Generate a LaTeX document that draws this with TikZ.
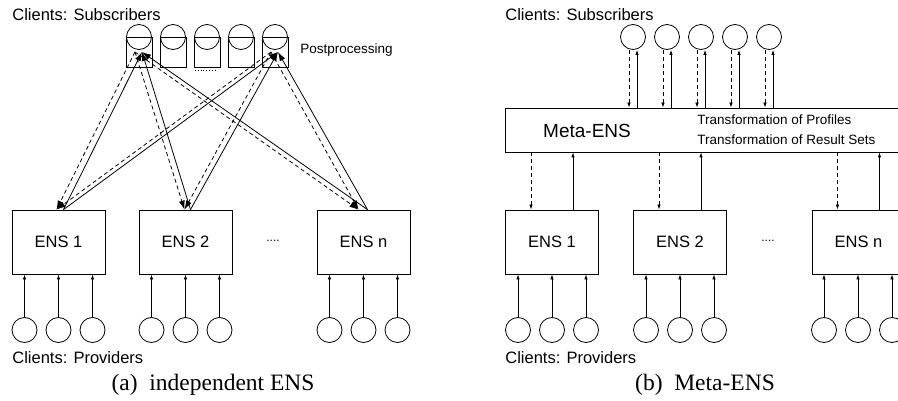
\documentclass[tikz,border=0pt]{standalone}
\usepackage{fontspec}
\setmainfont{Liberation Serif}
\setsansfont{Liberation Sans}
\usetikzlibrary{arrows.meta}
\tikzset{
    every node/.style={inner sep=0pt, line width=.8pt,
    	font=\sffamily\fontsize{16.5}{18}\selectfont}
}
\tikzset{
    client/.style={circle, draw, minimum size=25pt},
    post/.style={rectangle, draw, minimum width=26pt, minimum height=30pt},
    ens/.style={rectangle, draw, minimum width=93pt, minimum height=64pt},
    meta/.style={rectangle, draw, minimum width=405pt, minimum height=44pt},
    txt/.style={anchor=west},
    smalltxt/.style={anchor=west, font=\sffamily\fontsize{13.5}{15}\selectfont},
    caption/.style={font=\rmfamily\fontsize{23.5}{25}\selectfont}
}
\tikzset{
    res/.style={line width=.8pt, -{Latex[length=9pt,width=6pt]}},
    prof/.style={line width=.8pt, dash pattern=on 4pt off 3pt, -{Latex[length=9pt,width=6pt]}},
    up/.style={line width=.8pt, -{Latex[length=5pt,width=3.5pt]}},
    down/.style={line width=.8pt, dash pattern=on 4pt off 3pt, -{Latex[length=5pt,width=3.5pt]}}
}

\begin{document}
\begin{tikzpicture}[x=1pt,y=-1pt]
  \useasboundingbox (0,0) rectangle (898,401);
  \clip (0,0) rectangle (898,401);

  \node (subA) [txt] at (12,15) {Clients: Subscribers};
  \node (p1) [post] at (139,52) {};
  \node (p2) [post] at (173,52) {};
  \node (p3) [post] at (207,52) {};
  \node (p4) [post] at (241,52) {};
  \node (p5) [post] at (275,52) {};
  \node (s1) [client] at (139,37) {};
  \node (s2) [client] at (173,37) {};
  \node (s3) [client] at (207,37) {};
  \node (s4) [client] at (241,37) {};
  \node (s5) [client] at (275,37) {};
  \node (pp) [smalltxt] at (300,50) {Postprocessing};
  \draw [line width=.8pt, dotted] ([xshift=-12pt,yshift=-3.5pt]p3.south) -- ([xshift=10pt,yshift=-3.5pt]p3.south);

  \node (e1) [ens] at (58.5,242) {ENS 1};
  \node (e2) [ens] at (185.5,242) {ENS 2};
  \node (en) [ens] at (363.5,242) {ENS n};
  \node (dotsA) [font=\sffamily\fontsize{12}{12}\selectfont] at (273,241) {....};

  \draw [res] ([xshift=5pt]e1.north) -- ([xshift=3pt]p1.center);
  \draw [res] ([xshift=5pt]e1.north) -- ([xshift=3pt]p5.center);
  \draw [res] ([xshift=5pt]e2.north) -- ([xshift=3pt]p1.center);
  \draw [res] ([xshift=5pt]e2.north) -- ([xshift=3pt]p5.center);
  \draw [res] ([xshift=4pt]en.north) -- ([xshift=3pt]p1.center);
  \draw [res] ([xshift=4pt]en.north) -- ([xshift=3pt]p5.center);
  \draw [prof] ([xshift=-4pt]p1.center) -- ([xshift=-2pt]e1.north);
  \draw [prof] ([xshift=-4pt]p5.center) -- ([xshift=-2pt]e1.north);
  \draw [prof] ([xshift=-4pt]p1.center) -- ([xshift=-1pt]e2.north);
  \draw [prof] ([xshift=-4pt]p5.center) -- ([xshift=-1pt]e2.north);
  \draw [prof] ([xshift=-4pt]p1.center) -- ([xshift=-5pt]en.north);
  \draw [prof] ([xshift=-4pt]p5.center) -- ([xshift=-5pt]en.north);

  \node (c11) [client] at (24.5,330) {};
  \node (c12) [client] at (58.5,330) {};
  \node (c13) [client] at (92.5,330) {};
  \node (c21) [client] at (151.5,330) {};
  \node (c22) [client] at (185.5,330) {};
  \node (c23) [client] at (219.5,330) {};
  \node (cn1) [client] at (329.5,330) {};
  \node (cn2) [client] at (363.5,330) {};
  \node (cn3) [client] at (397.5,330) {};
  \draw [up] (c11) -- (c11 |- e1.south); \draw [up] (c12) -- (c12 |- e1.south);
  \draw [up] (c13) -- (c13 |- e1.south); \draw [up] (c21) -- (c21 |- e2.south);
  \draw [up] (c22) -- (c22 |- e2.south); \draw [up] (c23) -- (c23 |- e2.south);
  \draw [up] (cn1) -- (cn1 |- en.south); \draw [up] (cn2) -- (cn2 |- en.south);
  \draw [up] (cn3) -- (cn3 |- en.south);

  \node (provA) [txt] at (12,358) {Clients: Providers};
  \node (capA) [caption] at (213,385) {(a)\enspace independent ENS};

  \node (subB) [txt] at (505,15) {Clients: Subscribers};
  \node (r1) [client] at (633,37) {};
  \node (r2) [client] at (667,37) {};
  \node (r3) [client] at (701,37) {};
  \node (r4) [client] at (735,37) {};
  \node (r5) [client] at (769,37) {};
  \node (meta) [meta] at (707.5,130) {};
  \node (metalbl) [font=\sffamily\fontsize{19}{20}\selectfont] at (587,131) {Meta-ENS};
  \node (tprof) [smalltxt] at (697,120) {Transformation of Profiles};
  \node (tres) [smalltxt] at (697,140) {Transformation of Result Sets};

  \draw [down] ([xshift=-4pt]r1.south) -- ([xshift=-4pt]r1.south |- meta.north);
  \draw [down] ([xshift=-4pt]r2.south) -- ([xshift=-4pt]r2.south |- meta.north);
  \draw [down] ([xshift=-4pt]r3.south) -- ([xshift=-4pt]r3.south |- meta.north);
  \draw [down] ([xshift=-4pt]r4.south) -- ([xshift=-4pt]r4.south |- meta.north);
  \draw [down] ([xshift=-4pt]r5.south) -- ([xshift=-4pt]r5.south |- meta.north);
  \draw [up] ([xshift=4pt]r1.south |- meta.north) -- ([xshift=4pt]r1.south);
  \draw [up] ([xshift=4pt]r2.south |- meta.north) -- ([xshift=4pt]r2.south);
  \draw [up] ([xshift=4pt]r3.south |- meta.north) -- ([xshift=4pt]r3.south);
  \draw [up] ([xshift=4pt]r4.south |- meta.north) -- ([xshift=4pt]r4.south);
  \draw [up] ([xshift=4pt]r5.south |- meta.north) -- ([xshift=4pt]r5.south);

  \node (f1) [ens] at (552,242) {ENS 1};
  \node (f2) [ens] at (680,242) {ENS 2};
  \node (fn) [ens] at (858.5,242) {ENS n};
  \node (dotsB) [font=\sffamily\fontsize{12}{12}\selectfont] at (768,241) {....};

  \draw [down] ([xshift=-21pt]f1.north |- meta.south) -- ([xshift=-21pt]f1.north);
  \draw [down] ([xshift=-21pt]f2.north |- meta.south) -- ([xshift=-21pt]f2.north);
  \draw [down] ([xshift=-21pt]fn.north |- meta.south) -- ([xshift=-21pt]fn.north);
  \draw [up] ([xshift=21pt]f1.north) -- ([xshift=21pt]f1.north |- meta.south);
  \draw [up] ([xshift=21pt]f2.north) -- ([xshift=21pt]f2.north |- meta.south);
  \draw [up] ([xshift=21pt]fn.north) -- ([xshift=21pt]fn.north |- meta.south);

  \node (d11) [client] at (518,330) {};
  \node (d12) [client] at (552,330) {};
  \node (d13) [client] at (586,330) {};
  \node (d21) [client] at (646,330) {};
  \node (d22) [client] at (680,330) {};
  \node (d23) [client] at (714,330) {};
  \node (dn1) [client] at (824,330) {};
  \node (dn2) [client] at (858,330) {};
  \node (dn3) [client] at (892,330) {};
  \draw [up] (d11) -- (d11 |- f1.south); \draw [up] (d12) -- (d12 |- f1.south);
  \draw [up] (d13) -- (d13 |- f1.south); \draw [up] (d21) -- (d21 |- f2.south);
  \draw [up] (d22) -- (d22 |- f2.south); \draw [up] (d23) -- (d23 |- f2.south);
  \draw [up] (dn1) -- (dn1 |- fn.south); \draw [up] (dn2) -- (dn2 |- fn.south);
  \draw [up] (dn3) -- (dn3 |- fn.south);

  \node (provB) [txt] at (505,358) {Clients: Providers};
  \node (capB) [caption] at (705,385) {(b)\enspace Meta-ENS};
\end{tikzpicture}
\end{document}
